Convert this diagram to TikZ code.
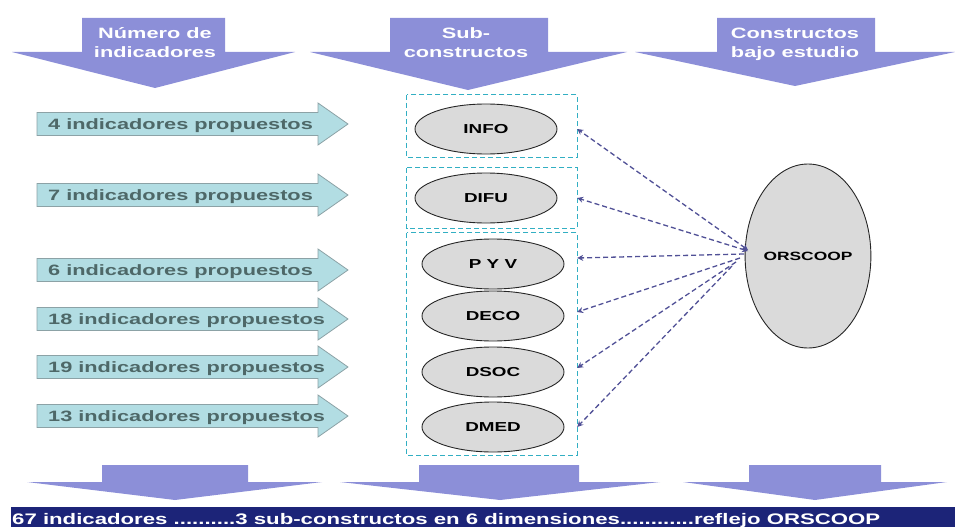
\documentclass[tikz,border=0pt]{standalone}
\usepackage{fontspec}
\setmainfont{Liberation Sans}[FakeStretch=1.45]
\usetikzlibrary{arrows.meta,shapes.geometric}
\definecolor{topblue}{RGB}{140,143,216}
\definecolor{navy}{RGB}{28,36,120}
\definecolor{cyanfill}{RGB}{178,221,227}
\definecolor{cyanline}{RGB}{140,162,166}
\definecolor{cyantext}{RGB}{78,104,104}
\definecolor{boxline}{RGB}{50,175,195}
\definecolor{linkcol}{RGB}{80,80,150}
\definecolor{ellfill}{RGB}{218,218,218}
\tikzset{
  bigarrow/.style={fill=topblue, draw=none},
  sidearrow/.style={fill=cyanfill, draw=cyanline, line width=0.8pt},
  sidetext/.style={anchor=base west, inner sep=0pt, text=cyantext, font=\bfseries\fontsize{15}{18}\selectfont},
  toptext/.style={anchor=base, inner sep=0pt, text=white, font=\bfseries\fontsize{15}{18}\selectfont},
  subbox/.style={draw=boxline, line width=0.9pt, dash pattern=on 5pt off 3pt},
  boxarea/.style={inner sep=0pt, draw=none},
  dim/.style={ellipse, draw=black!85, line width=0.9pt, fill=ellfill, minimum width=142pt, minimum height=50pt, inner sep=0pt, font=\bfseries\fontsize{13}{15}\selectfont},
  link/.style={draw=linkcol, line width=1.3pt, dash pattern=on 5pt off 3pt, -{Stealth[length=6pt,width=6pt]}},
  bilink/.style={link, {Stealth[length=6pt,width=6pt]}-{Stealth[length=6pt,width=6pt]}},
}
\begin{document}
\begin{tikzpicture}[x=1pt,y=-1pt]
\useasboundingbox (0,0) rectangle (955,527);
% top arrows
\fill[bigarrow] (82,18) -- (225,18) -- (225,52) -- (295,52) -- (155,88) -- (12,52) -- (82,52) -- cycle;
\fill[bigarrow] (390,18) -- (548,18) -- (548,52) -- (627,52) -- (468,90) -- (310,52) -- (390,52) -- cycle;
\fill[bigarrow] (717,18) -- (875,18) -- (875,52) -- (955,52) -- (795,86) -- (635,52) -- (717,52) -- cycle;
\node[toptext] (t1a) at (155,38) {Número de};
\node[toptext] (t1b) at (155,58) {indicadores};
\node[toptext] (t2a) at (466,38) {Sub-};
\node[toptext] (t2b) at (466,58) {constructos};
\node[toptext] (t3a) at (795,38) {Constructos};
\node[toptext] (t3b) at (795,58) {bajo estudio};
% left arrows
\foreach \c/\t [count=\i] in {124/4,195/7,270/6,319/18,367/19,416/13}{
  \draw[sidearrow] (37,\c-11.5) -- (318,\c-11.5) -- (318,\c-21) -- (348,\c) -- (318,\c+21) -- (318,\c+11.5) -- (37,\c+11.5) -- cycle;
  \node[sidetext] (ind\i) at (48,\c+5.5) {\t\ indicadores propuestos};
}
% dashed boxes
\node[boxarea, minimum width=170pt, minimum height=62pt] (box1) at (492,126) {};
\node[boxarea, minimum width=170pt, minimum height=60pt] (box2) at (492,198) {};
\node[boxarea, minimum width=170pt, minimum height=222pt] (box3) at (492,344) {};
\draw[subbox] (box1.north west) rectangle (box1.south east);
\draw[subbox] (box2.north west) rectangle (box2.south east);
\draw[subbox] (box3.north west) rectangle (box3.south east);
% ellipses
\node[dim] (info) at (486,129) {INFO};
\node[dim] (difu) at (486,198) {DIFU};
\node[dim] (pyv) at (493,264) {P Y V};
\node[dim] (deco) at (493,316) {DECO};
\node[dim] (dsoc) at (493,372) {DSOC};
\node[dim] (dmed) at (493,427) {DMED};
\node[ellipse, draw=black!85, line width=0.9pt, fill=ellfill, minimum width=120pt, minimum height=184pt, inner sep=0pt, font=\bfseries\fontsize{12}{14}\selectfont] (orscoop) at (808,256) {ORSCOOP};
% connectors
\coordinate (s1) at (748,250);
\coordinate (s2) at (748,251);
\coordinate (s3) at (744,254);
\coordinate (s4) at (740,258);
\coordinate (s5) at (736,262);
\coordinate (s6) at (732,266);
\draw[bilink] (s1) -- (box1.east |- info);
\draw[bilink] (s2) -- (box2.east |- difu);
\draw[link] (s3) -- ([yshift=6pt]box3.east |- pyv);
\draw[link] (s4) -- ([yshift=4pt]box3.east |- deco);
\draw[link] (s5) -- ([yshift=4pt]box3.east |- dsoc);
\draw[link] (s6) -- (box3.east |- dmed);
% bottom arrows
\fill[bigarrow] (102,465) -- (248,465) -- (248,482) -- (322,482) -- (175,500) -- (27,482) -- (102,482) -- cycle;
\fill[bigarrow] (419,465) -- (579,465) -- (579,482) -- (660,482) -- (500,500) -- (340,482) -- (419,482) -- cycle;
\fill[bigarrow] (749,465) -- (881,465) -- (881,482) -- (947,482) -- (815,500) -- (683,482) -- (749,482) -- cycle;
% bottom bar
\fill[navy] (11,507) rectangle (955,527);
\node[anchor=base west, inner sep=0pt, text=white, font=\bfseries\fontsize{15.3}{18}\selectfont] (summary) at (12,524) {67 indicadores ..........3 sub-constructos en 6 dimensiones............reflejo ORSCOOP};
\end{tikzpicture}
\end{document}
